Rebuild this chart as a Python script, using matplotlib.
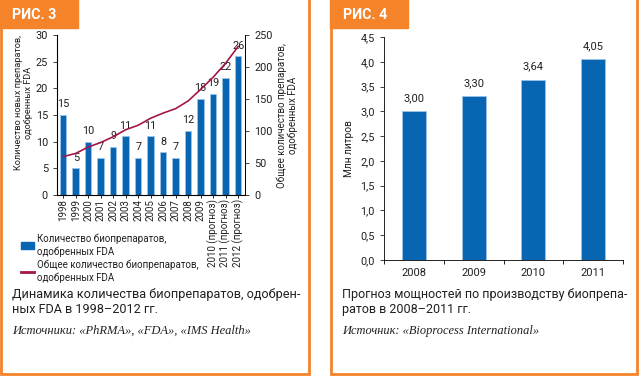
import matplotlib.pyplot as plt
import matplotlib.patches as mpatches
from matplotlib.lines import Line2D
from matplotlib.ticker import FuncFormatter
import numpy as np

plt.rcParams['font.family'] = ['Roboto', 'DejaVu Sans']

# Fig. 3 data
years3 = ["1998", "1999", "2000", "2001", "2002", "2003", "2004", "2005", "2006",
          "2007", "2008", "2009", "2010 (прогноз)", "2011 (прогноз)", "2012 (прогноз)"]
new_approved = [15, 5, 10, 7, 9, 11, 7, 11, 8, 7, 12, 18, 19, 22, 26]
total_approved = [60, 65, 75, 82, 91, 102, 109, 120, 128, 135, 147, 165, 184, 206, 232]

# Fig. 4 data
years4 = ["2008", "2009", "2010", "2011"]
capacity = [3.00, 3.30, 3.64, 4.05]

BLUE = "#0865b2"
EDGE = "#9cc3e6"
WINE = "#a3164c"
ORANGE = "#f5832a"
TXT = "#231f20"

W, H = 640, 376
fig = plt.figure(figsize=(6.4, 3.76), dpi=100)

def fx(px):
    return px / W

def fy(py):
    return 1 - py / H

# panel frames and tabs
bg = fig.add_axes([0, 0, 1, 1])
bg.set_xlim(0, W)
bg.set_ylim(H, 0)
bg.axis("off")
bg.add_patch(mpatches.Rectangle((1, -10), 308, 384, fill=False, ec=ORANGE, lw=2))
bg.add_patch(mpatches.Rectangle((331, -10), 306, 384, fill=False, ec=ORANGE, lw=2))
bg.add_patch(mpatches.Rectangle((0, -2), 78, 30, color=ORANGE))
bg.add_patch(mpatches.Rectangle((330, -2), 78, 30, color=ORANGE))
bg.text(12, 15, "РИС. 3", color="white", fontsize=10.3, fontweight="bold", va="center")
bg.text(343, 15, "РИС. 4", color="white", fontsize=10.3, fontweight="bold", va="center")

# ---- Fig. 3 ----
ax1 = fig.add_axes([fx(57), fy(195), fx(188), 160 / H])
x = np.arange(len(years3))
ax1.bar(x, new_approved, width=0.52, color=BLUE, edgecolor=EDGE, linewidth=0.6)
for xi, v in zip(x, new_approved):
    ax1.annotate(str(v), (xi, v), xytext=(0, 4), textcoords="offset points",
                 ha="center", va="bottom", fontsize=7.8, color=TXT)
ax1.set_xlim(-0.5, 14.55)
ax1.set_ylim(0, 30)
ax1.set_yticks(range(0, 31, 5))
ax1.set_xticks(x)
ax1.set_xticklabels(years3, rotation=90, fontsize=7, color=TXT)
ax1.tick_params(axis="y", labelsize=7.8, colors=TXT, length=3, width=0.6)
ax1.tick_params(axis="x", length=2, width=0.6, pad=1)
ax1.spines["top"].set_visible(False)
for s in ["left", "bottom", "right"]:
    ax1.spines[s].set_linewidth(0.6)
ax1.set_ylabel("Количество новых препаратов,\nодобренных FDA", fontsize=6.6,
               color=TXT, linespacing=1.1)
ax1.yaxis.set_label_coords(-0.13, 0.575)

ax2 = ax1.twinx()
ax2.plot(x, total_approved, color=WINE, lw=1.2)
ax2.set_ylim(0, 250)
ax2.set_yticks(range(0, 251, 50))
ax2.tick_params(axis="y", labelsize=7.8, colors=TXT, length=3, width=0.6)
ax2.spines["top"].set_visible(False)
ax2.spines["right"].set_linewidth(0.6)
ax2.set_ylabel("Общее количество препаратов,\nодобренных FDA", fontsize=7,
               color=TXT, labelpad=3, linespacing=1.05)

handles = [mpatches.Patch(color=BLUE),
           Line2D([0], [0], color=WINE, lw=2)]
fig.legend(handles,
           ["Количество биопрепаратов,\nодобренных FDA",
            "Общее количество биопрепаратов,\nодобренных FDA"],
           loc="upper left", bbox_to_anchor=(fx(16), fy(229)), frameon=False,
           fontsize=7, handlelength=1.3, handleheight=0.75, handletextpad=0.35,
           labelspacing=0.35, borderpad=0, labelcolor=TXT)

fig.text(fx(12), fy(288), "Динамика количества биопрепаратов, одобрен-\nных FDA в 1998–2012 гг.",
         fontsize=9.05, color=TXT, va="top", linespacing=1.2)
fig.text(fx(12), fy(331), "Источники: «PhRMA», «FDA», «IMS Health»",
         fontsize=9, color=TXT, va="center", family="Liberation Serif", style="italic")

# ---- Fig. 4 ----
ax3 = fig.add_axes([fx(384), fy(260), fx(239), 223 / H])
x4 = np.arange(len(years4))
ax3.bar(x4, capacity, width=0.4, color=BLUE, edgecolor=EDGE, linewidth=0.6)
for xi, v in zip(x4, capacity):
    ax3.annotate(f"{v:.2f}".replace(".", ","), (xi, v), xytext=(0, 6),
                 textcoords="offset points", ha="center", va="bottom",
                 fontsize=8, color=TXT)
ax3.set_xlim(-0.5, 3.5)
ax3.set_ylim(0, 4.5)
ax3.set_yticks(np.arange(0, 4.6, 0.5))
ax3.yaxis.set_major_formatter(FuncFormatter(lambda v, p: f"{v:.1f}".replace(".", ",")))
ax3.set_xticks(x4)
ax3.set_xticklabels(years4, fontsize=8, color=TXT)
ax3.set_xticks(np.arange(-0.5, 3.6, 1), minor=True)
ax3.tick_params(axis="x", which="major", length=0, pad=6)
ax3.tick_params(axis="x", which="minor", length=3, width=0.6)
ax3.tick_params(axis="y", labelsize=7.8, colors=TXT, length=3, width=0.6)
ax3.spines["top"].set_visible(False)
ax3.spines["right"].set_visible(False)
for s in ["left", "bottom"]:
    ax3.spines[s].set_linewidth(0.6)
ax3.set_ylabel("Млн литров", fontsize=7.3, color=TXT, labelpad=5)

fig.text(fx(342), fy(288), "Прогноз мощностей по производству биопрепа-\nратов в 2008–2011 гг.",
         fontsize=9, color=TXT, va="top", linespacing=1.2)
fig.text(fx(342), fy(331), "Источник: «Bioprocess International»",
         fontsize=8.9, color=TXT, va="center", family="Liberation Serif", style="italic")

fig.savefig("out.png", dpi=100)
